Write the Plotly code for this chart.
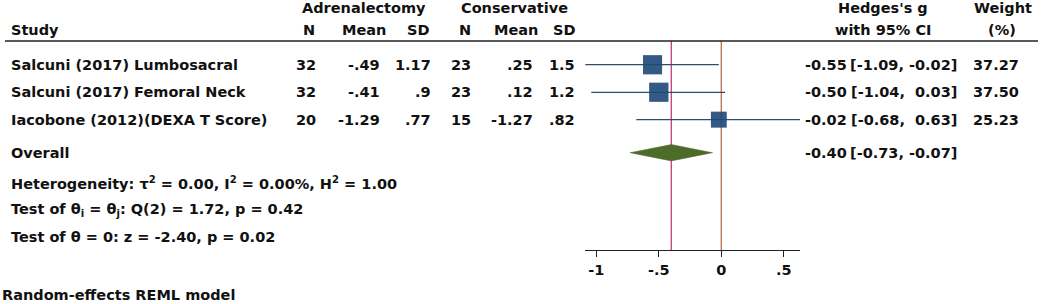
import plotly.graph_objects as go
import numpy as np

# ---------------- data ----------------
studies = ["Salcuni (2017) Lumbosacral", "Salcuni (2017) Femoral Neck", "Iacobone (2012)(DEXA T Score)"]
n_adr = [32, 32, 20]
mean_adr = [-0.49, -0.41, -1.29]
sd_adr = [1.17, 0.9, 0.77]
n_con = [23, 23, 15]
mean_con = [0.25, 0.12, -1.27]
sd_con = [1.5, 1.2, 0.82]
g_est = [-0.55, -0.50, -0.02]
g_lo = [-1.09, -1.04, -0.68]
g_hi = [-0.02, 0.03, 0.63]
weights = [37.27, 37.50, 25.23]
overall_est = -0.40
overall_lo = -0.73
overall_hi = -0.07
tick_vals = [-1, -0.5, 0, 0.5]
tick_labels = ["-1", "-.5", "0", ".5"]
het_text = "Heterogeneity: τ<sup>2</sup> = 0.00, I<sup>2</sup> = 0.00%, H<sup>2</sup> = 1.00"
test1_text = "Test of θ<sub>i</sub> = θ<sub>j</sub>: Q(2) = 1.72, p = 0.42"
test2_text = "Test of θ = 0: z = -2.40, p = 0.02"
model_text = "Random-effects REML model"

# ---------------- layout constants (pixels) ----------------
W, H = 1042, 304
AXIS_Y = 250.3
ROW_Y = [64.7, 92.3, 119.7]
OVERALL_Y = 152.7
FONT = "DejaVu Sans"
FS = 14.5
TXT = "#111111"
SQ_COL = "#1F4A78"
CI_COL = "#2E4D6C"
DIA_COL = "#4F6B2A"
OV_LINE = "#C23C7A"
ZERO_LINE = "#B86E4E"


def stata_fmt(v):
    s = f"{v:g}"
    if s.startswith("0."):
        s = s[1:]
    elif s.startswith("-0."):
        s = "-" + s[2:]
    return s


fig = go.Figure()

est = np.array(g_est)
sizes = [3.12 * np.sqrt(w) for w in weights]
# CI lines
fig.add_trace(go.Scatter(
    x=g_est, y=ROW_Y, mode="markers",
    marker=dict(symbol="square", size=sizes, color=SQ_COL, line=dict(width=0)),
    error_x=dict(type="data", symmetric=False,
                 array=list(np.array(g_hi) - est), arrayminus=list(est - np.array(g_lo)),
                 color=CI_COL, thickness=1.3, width=0),
    showlegend=False, hoverinfo="skip"))
# squares on top
fig.add_trace(go.Scatter(
    x=g_est, y=ROW_Y, mode="markers",
    marker=dict(symbol="square", size=sizes, color=SQ_COL, line=dict(width=0)),
    showlegend=False, hoverinfo="skip"))

# overall diamond
DH = 8.2
fig.add_trace(go.Scatter(
    x=[overall_lo, overall_est, overall_hi, overall_est, overall_lo],
    y=[OVERALL_Y, OVERALL_Y - DH, OVERALL_Y, OVERALL_Y + DH, OVERALL_Y],
    mode="lines", fill="toself", fillcolor=DIA_COL, line=dict(color=DIA_COL, width=0.5),
    showlegend=False, hoverinfo="skip"))

shapes = [
    dict(type="line", xref="x", yref="y", x0=overall_est, x1=overall_est, y0=41, y1=AXIS_Y,
         line=dict(color=OV_LINE, width=1.3), layer="below"),
    dict(type="line", xref="x", yref="y", x0=0, x1=0, y0=41, y1=AXIS_Y,
         line=dict(color=ZERO_LINE, width=1.3), layer="below"),
    dict(type="line", xref="paper", yref="y", x0=5 / W, x1=1038 / W, y0=41, y1=41,
         line=dict(color="#222222", width=1.3)),
]

ann = []


def add_text(text, px, py, anchor="left"):
    ann.append(dict(text=text, x=px / W, y=1 - py / H, xref="paper", yref="paper",
                    xanchor=anchor, yanchor="middle", showarrow=False,
                    font=dict(family=FONT, size=FS, color=TXT, weight="bold")))


# headers
add_text("Adrenalectomy", 364, 8, "center")
add_text("Conservative", 514, 8, "center")
add_text("Study", 9, 30)
add_text("N", 317.3, 30, "right")
add_text("Mean", 388.3, 30, "right")
add_text("SD", 430.7, 30, "right")
add_text("N", 472.7, 30, "right")
add_text("Mean", 540, 30, "right")
add_text("SD", 577, 30, "right")
add_text("Hedges's g", 882.5, 8, "center")
add_text("with 95% CI", 882.5, 30, "center")
add_text("Weight", 1003, 8, "center")
add_text("(%)", 1002, 30, "center")

# study rows
for i, s in enumerate(studies):
    y = ROW_Y[i]
    add_text(s, 9, y)
    add_text(str(n_adr[i]), 317.5, y, "right")
    add_text(stata_fmt(mean_adr[i]), 382, y, "right")
    add_text(stata_fmt(sd_adr[i]), 433, y, "right")
    add_text(str(n_con[i]), 472.8, y, "right")
    add_text(stata_fmt(mean_con[i]), 535, y, "right")
    add_text(stata_fmt(sd_con[i]), 577, y, "right")
    add_text(f"{g_est[i]:.2f}", 803, y, "left")
    add_text(f"[{g_lo[i]:.2f}, {g_hi[i]:5.2f}]", 959, y, "right")
    add_text(f"{weights[i]:.2f}", 1020.5, y, "right")

add_text("Overall", 9, OVERALL_Y)
add_text(f"{overall_est:.2f}", 803, OVERALL_Y, "left")
add_text(f"[{overall_lo:.2f}, {overall_hi:.2f}]", 959, OVERALL_Y, "right")

add_text(het_text, 9, 182.7)
add_text(test1_text, 9, 209.5)
add_text(test2_text, 9, 237)
add_text(model_text, 0, 295)

fig.update_layout(
    width=W, height=H,
    margin=dict(l=0, r=0, t=0, b=0),
    paper_bgcolor="white", plot_bgcolor="white",
    font=dict(family=FONT, size=FS, color=TXT, weight="bold"),
    shapes=shapes, annotations=ann,
    xaxis=dict(domain=[585.3 / W, 800 / W], range=[-1.0878, 0.6296],
               tickvals=tick_vals, ticktext=tick_labels,
               ticks="outside", ticklen=6, tickwidth=1.2, tickcolor="#222222",
               showline=True, linecolor="#222222", linewidth=1.3,
               showgrid=False, zeroline=False, fixedrange=True,
               tickfont=dict(family=FONT, size=FS, color=TXT, weight="bold")),
    yaxis=dict(domain=[(H - AXIS_Y) / H, 1], range=[AXIS_Y, 0],
               visible=False, showgrid=False, zeroline=False, fixedrange=True),
    showlegend=False,
)

fig.write_html("out.html", config={"displayModeBar": False},
               post_script="document.body.style.margin='0';document.body.style.overflow='hidden';")
